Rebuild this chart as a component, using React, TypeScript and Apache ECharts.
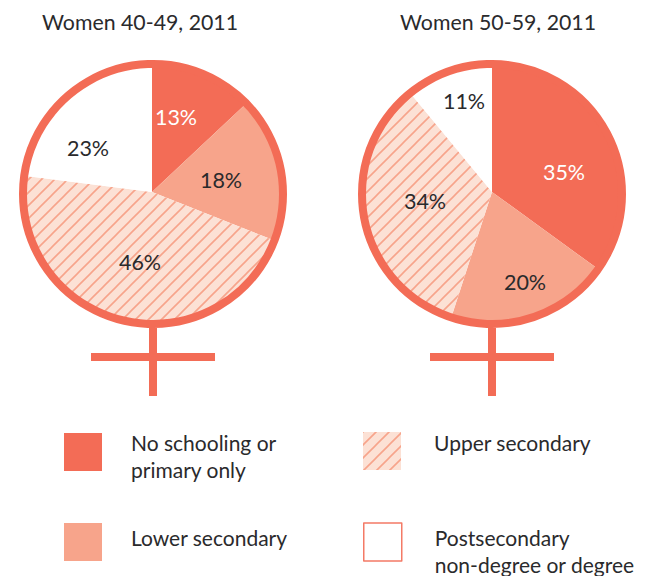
import React, { useEffect, useRef } from "react";
import * as echarts from "echarts";

const categories = ["No schooling or\nprimary only", "Lower secondary", "Upper secondary", "Postsecondary\nnon-degree or degree"];
const women4049 = [13, 18, 46, 23];
const women5059 = [35, 20, 34, 11];
const titles = ["Women 40-49, 2011", "Women 50-59, 2011"];

const labelPos4049 = [[176, 117], [221, 180], [140, 262], [88, 148]];
const labelPos5059 = [[564, 172], [525, 282], [425, 201], [464, 101]];

const RED = "#F36C56";
const LIGHT = "#F7A48B";
const HATCH_BG = "#FCE1D5";
const INK = "#2A2A2C";

function hatch() {
  const s = 13;
  const c = document.createElement("canvas");
  c.width = s;
  c.height = s;
  const g = c.getContext("2d")!;
  g.fillStyle = HATCH_BG;
  g.fillRect(0, 0, s, s);
  g.strokeStyle = LIGHT;
  g.lineWidth = 1.6;
  g.beginPath();
  g.moveTo(-2, 2); g.lineTo(2, -2);
  g.moveTo(-2, s + 2); g.lineTo(s + 2, -2);
  g.moveTo(s - 2, s + 2); g.lineTo(s + 2, s - 2);
  g.stroke();
  return c;
}

export default function App() {
  const ref = useRef<HTMLDivElement>(null);
  useEffect(() => {
    const chart = echarts.init(ref.current!, undefined, { renderer: "svg" });
    const pattern: any = { image: hatch(), repeat: "repeat" };
    const colors: any[] = [RED, LIGHT, pattern, "#FFFFFF"];
    const font = "Lato";

    const pie = (values: number[], cx: number, pos: number[][]) => ({
      type: "pie",
      center: [cx, 192],
      radius: [0, 129],
      startAngle: 90,
      clockwise: true,
      silent: true,
      sort: null,
      data: values.map((v, i) => ({
        name: categories[i],
        value: v,
        itemStyle: { color: colors[i] },
        label: { color: i === 0 ? "#FFFFFF" : INK },
      })),
      label: {
        show: true,
        position: "inside",
        formatter: "{c}%",
        fontFamily: font,
        fontSize: 21.5,
      },
      labelLine: { show: false },
      labelLayout: (p: any) => ({
        x: pos[p.dataIndex][0],
        y: pos[p.dataIndex][1],
        align: "center",
        verticalAlign: "middle",
      }),
      emphasis: { disabled: true },
    });

    const symbol = (cx: number) => [
      { type: "circle", z: 10, silent: true, shape: { cx, cy: 194, r: 130 }, style: { fill: "none", stroke: RED, lineWidth: 8 } },
      { type: "rect", z: 10, silent: true, shape: { x: cx - 4, y: 328, width: 8, height: 68 }, style: { fill: RED } },
      { type: "rect", z: 10, silent: true, shape: { x: cx - 62, y: 353, width: 124, height: 8 }, style: { fill: RED } },
    ];

    // shift: how far the text block sits below (+) or above (-) the middle of its swatch
    const legendPlaces = [
      { left: 64, iconTop: 433, shift: 3.5, gap: 24, nudge: 0 },
      { left: 64, iconTop: 523, shift: -5, gap: 24, nudge: 0 },
      { left: 363, iconTop: 433, shift: -9, gap: 28, nudge: 2 },
      { left: 363, iconTop: 523, shift: 8.5, gap: 28, nudge: 0 },
    ];
    const LINE = 27;

    chart.setOption({
      animation: false,
      backgroundColor: "#FFFFFF",
      title: titles.map((text, i) => ({
        text,
        left: i === 0 ? 42 : 400,
        top: 11,
        padding: 0,
        textStyle: { fontFamily: font, fontSize: 21.3, fontWeight: "normal", color: INK },
      })),
      legend: categories.map((name, i) => {
        const p = legendPlaces[i];
        const lines = name.split("\n");
        const spacer = Math.abs(p.shift) * 2;
        const h = lines.length * LINE + spacer;
        return {
          show: true,
          selectedMode: false,
          orient: "horizontal",
          left: p.left,
          top: p.iconTop - Math.max(0, (h - 38) / 2) + p.nudge,
          padding: 0,
          itemWidth: 38,
          itemHeight: 38,
          icon: "rect",
          data: [
            {
              name,
              itemStyle: i === 3 ? { color: "#FFFFFF", borderColor: "#F47A66", borderWidth: 1.5 } : { color: colors[i] },
            },
          ],
          formatter: () => {
            const body = lines.map((l) => `{a|${l}}`);
            return (p.shift > 0 ? ["{s| }", ...body] : [...body, "{s| }"]).join("\n");
          },
          textStyle: {
            padding: [0, 0, 0, p.gap],
            rich: {
              a: { fontFamily: font, fontSize: 21, lineHeight: LINE, color: INK },
              s: { fontFamily: font, fontSize: 1, lineHeight: spacer, height: spacer, color: INK },
            },
          },
        };
      }),
      series: [pie(women4049, 152, labelPos4049), pie(women5059, 492, labelPos5059)],
      graphic: [...symbol(153), ...symbol(492)],
    } as any);
    return () => chart.dispose();
  }, []);
  return <div ref={ref} style={{ position: "absolute", left: 0, top: 0, width: 653, height: 576 }} />;
}
